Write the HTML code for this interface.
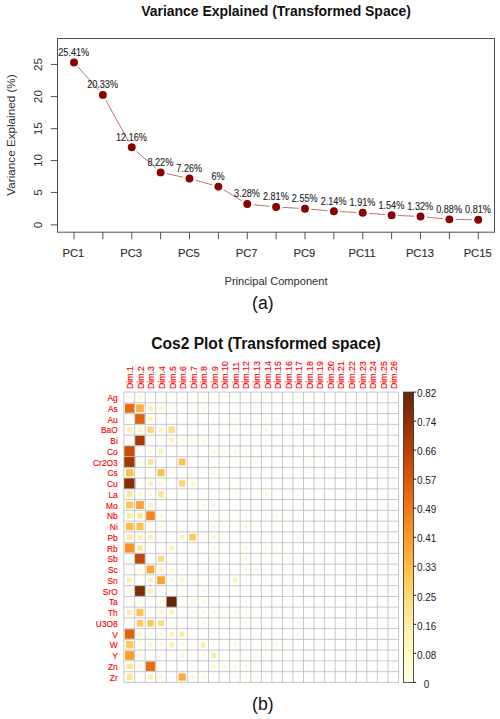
<!DOCTYPE html>
<html lang="en"><head><meta charset="utf-8"><title>Variance Explained and Cos2 Plot</title>
<style>html,body{margin:0;padding:0;background:#fff}svg{display:block}</style></head>
<body>
<svg width="500" height="719" viewBox="0 0 500 719" font-family="'Liberation Sans', sans-serif">
<rect width="500" height="719" fill="#fff"/>
<text x="276" y="16" font-size="13.95" font-weight="bold" text-anchor="middle" fill="#111">Variance Explained (Transformed Space)</text>
<rect x="57.5" y="38.5" width="437.0" height="193.7" fill="none" stroke="#505050" stroke-width="1"/>
<line x1="50.8" y1="224.90" x2="57.5" y2="224.90" stroke="#505050" stroke-width="1"/>
<text transform="translate(42.3,224.90) rotate(-90)" font-size="11.8" text-anchor="middle" fill="#2e2e2e">0</text>
<line x1="50.8" y1="192.45" x2="57.5" y2="192.45" stroke="#505050" stroke-width="1"/>
<text transform="translate(42.3,192.45) rotate(-90)" font-size="11.8" text-anchor="middle" fill="#2e2e2e">5</text>
<line x1="50.8" y1="160.55" x2="57.5" y2="160.55" stroke="#505050" stroke-width="1"/>
<text transform="translate(42.3,160.55) rotate(-90)" font-size="11.8" text-anchor="middle" fill="#2e2e2e">10</text>
<line x1="50.8" y1="128.70" x2="57.5" y2="128.70" stroke="#505050" stroke-width="1"/>
<text transform="translate(42.3,128.70) rotate(-90)" font-size="11.8" text-anchor="middle" fill="#2e2e2e">15</text>
<line x1="50.8" y1="96.60" x2="57.5" y2="96.60" stroke="#505050" stroke-width="1"/>
<text transform="translate(42.3,96.60) rotate(-90)" font-size="11.8" text-anchor="middle" fill="#2e2e2e">20</text>
<line x1="50.8" y1="64.45" x2="57.5" y2="64.45" stroke="#505050" stroke-width="1"/>
<text transform="translate(42.3,64.45) rotate(-90)" font-size="11.8" text-anchor="middle" fill="#2e2e2e">25</text>
<line x1="74.00" y1="232.2" x2="74.00" y2="239.2" stroke="#505050" stroke-width="1"/>
<text x="73.40" y="256.6" font-size="11.2" text-anchor="middle" fill="#2e2e2e" stroke="#2e2e2e" stroke-width="0.15">PC1</text>
<line x1="102.88" y1="232.2" x2="102.88" y2="239.2" stroke="#505050" stroke-width="1"/>
<line x1="131.75" y1="232.2" x2="131.75" y2="239.2" stroke="#505050" stroke-width="1"/>
<text x="131.15" y="256.6" font-size="11.2" text-anchor="middle" fill="#2e2e2e" stroke="#2e2e2e" stroke-width="0.15">PC3</text>
<line x1="160.62" y1="232.2" x2="160.62" y2="239.2" stroke="#505050" stroke-width="1"/>
<line x1="189.50" y1="232.2" x2="189.50" y2="239.2" stroke="#505050" stroke-width="1"/>
<text x="188.90" y="256.6" font-size="11.2" text-anchor="middle" fill="#2e2e2e" stroke="#2e2e2e" stroke-width="0.15">PC5</text>
<line x1="218.38" y1="232.2" x2="218.38" y2="239.2" stroke="#505050" stroke-width="1"/>
<line x1="247.25" y1="232.2" x2="247.25" y2="239.2" stroke="#505050" stroke-width="1"/>
<text x="246.65" y="256.6" font-size="11.2" text-anchor="middle" fill="#2e2e2e" stroke="#2e2e2e" stroke-width="0.15">PC7</text>
<line x1="276.12" y1="232.2" x2="276.12" y2="239.2" stroke="#505050" stroke-width="1"/>
<line x1="305.00" y1="232.2" x2="305.00" y2="239.2" stroke="#505050" stroke-width="1"/>
<text x="304.40" y="256.6" font-size="11.2" text-anchor="middle" fill="#2e2e2e" stroke="#2e2e2e" stroke-width="0.15">PC9</text>
<line x1="333.88" y1="232.2" x2="333.88" y2="239.2" stroke="#505050" stroke-width="1"/>
<line x1="362.75" y1="232.2" x2="362.75" y2="239.2" stroke="#505050" stroke-width="1"/>
<text x="362.15" y="256.6" font-size="11.2" text-anchor="middle" fill="#2e2e2e" stroke="#2e2e2e" stroke-width="0.15">PC11</text>
<line x1="391.62" y1="232.2" x2="391.62" y2="239.2" stroke="#505050" stroke-width="1"/>
<line x1="420.50" y1="232.2" x2="420.50" y2="239.2" stroke="#505050" stroke-width="1"/>
<text x="419.90" y="256.6" font-size="11.2" text-anchor="middle" fill="#2e2e2e" stroke="#2e2e2e" stroke-width="0.15">PC13</text>
<line x1="449.38" y1="232.2" x2="449.38" y2="239.2" stroke="#505050" stroke-width="1"/>
<line x1="478.25" y1="232.2" x2="478.25" y2="239.2" stroke="#505050" stroke-width="1"/>
<text x="477.65" y="256.6" font-size="11.2" text-anchor="middle" fill="#2e2e2e" stroke="#2e2e2e" stroke-width="0.15">PC15</text>
<text x="276" y="284.5" font-size="11.1" text-anchor="middle" fill="#2e2e2e">Principal Component</text>
<text transform="translate(15,135) rotate(-90)" font-size="11.7" text-anchor="middle" fill="#2e2e2e">Variance Explained (%)</text>
<line x1="78.25" y1="67.16" x2="98.63" y2="90.10" stroke="#8b0000" stroke-opacity="0.62" stroke-width="0.9"/>
<line x1="105.97" y1="100.49" x2="128.66" y2="141.57" stroke="#8b0000" stroke-opacity="0.62" stroke-width="0.9"/>
<line x1="136.57" y1="151.39" x2="155.80" y2="168.18" stroke="#8b0000" stroke-opacity="0.62" stroke-width="0.9"/>
<line x1="166.88" y1="173.72" x2="183.24" y2="177.20" stroke="#8b0000" stroke-opacity="0.62" stroke-width="0.9"/>
<line x1="195.66" y1="180.26" x2="212.21" y2="184.88" stroke="#8b0000" stroke-opacity="0.62" stroke-width="0.9"/>
<line x1="223.86" y1="189.90" x2="241.77" y2="200.70" stroke="#8b0000" stroke-opacity="0.62" stroke-width="0.9"/>
<line x1="253.62" y1="204.67" x2="269.76" y2="206.35" stroke="#8b0000" stroke-opacity="0.62" stroke-width="0.9"/>
<line x1="282.51" y1="207.38" x2="298.61" y2="208.31" stroke="#8b0000" stroke-opacity="0.62" stroke-width="0.9"/>
<line x1="311.37" y1="209.26" x2="327.50" y2="210.72" stroke="#8b0000" stroke-opacity="0.62" stroke-width="0.9"/>
<line x1="340.27" y1="211.63" x2="356.36" y2="212.45" stroke="#8b0000" stroke-opacity="0.62" stroke-width="0.9"/>
<line x1="369.13" y1="213.30" x2="385.25" y2="214.62" stroke="#8b0000" stroke-opacity="0.62" stroke-width="0.9"/>
<line x1="398.02" y1="215.46" x2="414.11" y2="216.24" stroke="#8b0000" stroke-opacity="0.62" stroke-width="0.9"/>
<line x1="426.87" y1="217.17" x2="443.01" y2="218.75" stroke="#8b0000" stroke-opacity="0.62" stroke-width="0.9"/>
<line x1="455.77" y1="219.47" x2="471.85" y2="219.72" stroke="#8b0000" stroke-opacity="0.62" stroke-width="0.9"/>
<circle cx="74.00" cy="62.38" r="3.95" fill="#8b0000"/>
<circle cx="102.88" cy="94.89" r="3.95" fill="#8b0000"/>
<circle cx="131.75" cy="147.18" r="3.95" fill="#8b0000"/>
<circle cx="160.62" cy="172.39" r="3.95" fill="#8b0000"/>
<circle cx="189.50" cy="178.54" r="3.95" fill="#8b0000"/>
<circle cx="218.38" cy="186.60" r="3.95" fill="#8b0000"/>
<circle cx="247.25" cy="204.01" r="3.95" fill="#8b0000"/>
<circle cx="276.12" cy="207.02" r="3.95" fill="#8b0000"/>
<circle cx="305.00" cy="208.68" r="3.95" fill="#8b0000"/>
<circle cx="333.88" cy="211.30" r="3.95" fill="#8b0000"/>
<circle cx="362.75" cy="212.78" r="3.95" fill="#8b0000"/>
<circle cx="391.62" cy="215.14" r="3.95" fill="#8b0000"/>
<circle cx="420.50" cy="216.55" r="3.95" fill="#8b0000"/>
<circle cx="449.38" cy="219.37" r="3.95" fill="#8b0000"/>
<circle cx="478.25" cy="219.82" r="3.95" fill="#8b0000"/>
<text transform="translate(73.70,55.83) scale(0.885,1)" font-size="10.3" text-anchor="middle" fill="#262626" stroke="#262626" stroke-width="0.12">25.41%</text>
<text transform="translate(102.58,88.34) scale(0.885,1)" font-size="10.3" text-anchor="middle" fill="#262626" stroke="#262626" stroke-width="0.12">20.33%</text>
<text transform="translate(131.45,140.63) scale(0.885,1)" font-size="10.3" text-anchor="middle" fill="#262626" stroke="#262626" stroke-width="0.12">12.16%</text>
<text transform="translate(160.32,165.84) scale(0.885,1)" font-size="10.3" text-anchor="middle" fill="#262626" stroke="#262626" stroke-width="0.12">8.22%</text>
<text transform="translate(189.20,171.99) scale(0.885,1)" font-size="10.3" text-anchor="middle" fill="#262626" stroke="#262626" stroke-width="0.12">7.26%</text>
<text transform="translate(218.07,180.05) scale(0.885,1)" font-size="10.3" text-anchor="middle" fill="#262626" stroke="#262626" stroke-width="0.12">6%</text>
<text transform="translate(246.95,197.46) scale(0.885,1)" font-size="10.3" text-anchor="middle" fill="#262626" stroke="#262626" stroke-width="0.12">3.28%</text>
<text transform="translate(275.82,200.47) scale(0.885,1)" font-size="10.3" text-anchor="middle" fill="#262626" stroke="#262626" stroke-width="0.12">2.81%</text>
<text transform="translate(304.70,202.13) scale(0.885,1)" font-size="10.3" text-anchor="middle" fill="#262626" stroke="#262626" stroke-width="0.12">2.55%</text>
<text transform="translate(333.57,204.75) scale(0.885,1)" font-size="10.3" text-anchor="middle" fill="#262626" stroke="#262626" stroke-width="0.12">2.14%</text>
<text transform="translate(362.45,206.23) scale(0.885,1)" font-size="10.3" text-anchor="middle" fill="#262626" stroke="#262626" stroke-width="0.12">1.91%</text>
<text transform="translate(391.32,208.59) scale(0.885,1)" font-size="10.3" text-anchor="middle" fill="#262626" stroke="#262626" stroke-width="0.12">1.54%</text>
<text transform="translate(420.20,210.00) scale(0.885,1)" font-size="10.3" text-anchor="middle" fill="#262626" stroke="#262626" stroke-width="0.12">1.32%</text>
<text transform="translate(449.07,212.82) scale(0.885,1)" font-size="10.3" text-anchor="middle" fill="#262626" stroke="#262626" stroke-width="0.12">0.88%</text>
<text transform="translate(477.95,213.27) scale(0.885,1)" font-size="10.3" text-anchor="middle" fill="#262626" stroke="#262626" stroke-width="0.12">0.81%</text>
<text x="262.8" y="309" font-size="17.6" text-anchor="middle" fill="#111">(a)</text>
<text x="266" y="349" font-size="15.6" font-weight="bold" text-anchor="middle" fill="#111">Cos2 Plot (Transformed space)</text>
<rect x="128.25" y="396.35" width="2.25" height="2.25" fill="#fffcd3"/>
<rect x="138.06" y="395.57" width="3.75" height="3.82" fill="#fff9c6"/>
<rect x="149.81" y="396.80" width="1.35" height="1.35" fill="#fffdd9"/>
<rect x="160.21" y="396.65" width="1.65" height="1.65" fill="#fffcd7"/>
<rect x="170.77" y="396.65" width="1.65" height="1.65" fill="#fffcd7"/>
<rect x="181.17" y="396.50" width="1.95" height="1.95" fill="#fffcd5"/>
<rect x="191.72" y="396.50" width="1.95" height="1.95" fill="#fffcd5"/>
<rect x="201.88" y="396.10" width="2.75" height="2.75" fill="#fffbd0"/>
<rect x="213.03" y="396.70" width="1.55" height="1.55" fill="#fffcd7"/>
<rect x="223.06" y="395.58" width="2.60" height="3.80" fill="#fffaca"/>
<rect x="234.14" y="396.70" width="1.55" height="1.55" fill="#fffcd7"/>
<rect x="244.89" y="396.90" width="1.15" height="1.15" fill="#fffdda"/>
<rect x="255.05" y="396.50" width="1.95" height="1.95" fill="#fffcd5"/>
<rect x="265.60" y="396.50" width="1.95" height="1.95" fill="#fffcd5"/>
<rect x="276.36" y="396.70" width="1.55" height="1.55" fill="#fffcd7"/>
<rect x="287.16" y="396.95" width="1.05" height="1.05" fill="#fffdda"/>
<rect x="297.06" y="396.30" width="2.35" height="2.35" fill="#fffbd3"/>
<rect x="307.72" y="396.40" width="2.15" height="2.15" fill="#fffcd4"/>
<rect x="318.27" y="396.40" width="2.15" height="2.15" fill="#fffcd4"/>
<rect x="329.02" y="396.60" width="1.75" height="1.75" fill="#fffcd6"/>
<rect x="339.88" y="396.90" width="1.15" height="1.15" fill="#fffdda"/>
<rect x="350.43" y="396.90" width="1.15" height="1.15" fill="#fffdda"/>
<rect x="360.79" y="396.70" width="1.55" height="1.55" fill="#fffcd7"/>
<rect x="371.54" y="396.90" width="1.15" height="1.15" fill="#fffdda"/>
<rect x="381.99" y="396.80" width="1.35" height="1.35" fill="#fffdd9"/>
<rect x="392.45" y="396.70" width="1.55" height="1.55" fill="#fffcd7"/>
<rect x="124.95" y="403.72" width="9.45" height="9.01" fill="#ea6d13"/>
<rect x="136.06" y="404.28" width="7.75" height="7.90" fill="#feae3c"/>
<rect x="148.06" y="405.76" width="4.85" height="4.94" fill="#fff0ad"/>
<rect x="159.06" y="406.22" width="3.95" height="4.02" fill="#fff8c2"/>
<rect x="170.47" y="407.10" width="2.25" height="2.25" fill="#fffcd3"/>
<rect x="181.17" y="407.25" width="1.95" height="1.95" fill="#fffcd5"/>
<rect x="192.02" y="407.55" width="1.35" height="1.35" fill="#fffdd9"/>
<rect x="201.95" y="406.33" width="2.60" height="3.80" fill="#fffaca"/>
<rect x="213.23" y="407.65" width="1.15" height="1.15" fill="#fffdda"/>
<rect x="223.69" y="407.55" width="1.35" height="1.35" fill="#fffdd9"/>
<rect x="233.54" y="406.85" width="2.75" height="2.75" fill="#fffbd0"/>
<rect x="244.94" y="407.70" width="1.05" height="1.05" fill="#fffdda"/>
<rect x="254.35" y="406.52" width="3.35" height="3.41" fill="#fffacd"/>
<rect x="265.40" y="407.05" width="2.35" height="2.35" fill="#fffbd3"/>
<rect x="276.36" y="407.45" width="1.55" height="1.55" fill="#fffcd7"/>
<rect x="286.91" y="407.45" width="1.55" height="1.55" fill="#fffcd7"/>
<rect x="297.66" y="407.65" width="1.15" height="1.15" fill="#fffdda"/>
<rect x="308.02" y="407.45" width="1.55" height="1.55" fill="#fffcd7"/>
<rect x="318.67" y="407.55" width="1.35" height="1.35" fill="#fffdd9"/>
<rect x="329.32" y="407.65" width="1.15" height="1.15" fill="#fffdda"/>
<rect x="339.88" y="407.65" width="1.15" height="1.15" fill="#fffdda"/>
<rect x="350.23" y="407.45" width="1.55" height="1.55" fill="#fffcd7"/>
<rect x="360.79" y="407.45" width="1.55" height="1.55" fill="#fffcd7"/>
<rect x="371.54" y="407.65" width="1.15" height="1.15" fill="#fffdda"/>
<rect x="381.99" y="407.55" width="1.35" height="1.35" fill="#fffdd9"/>
<rect x="392.65" y="407.65" width="1.15" height="1.15" fill="#fffdda"/>
<rect x="128.80" y="418.40" width="1.15" height="1.15" fill="#fffdda"/>
<rect x="135.11" y="414.07" width="9.65" height="9.83" fill="#e0630d"/>
<rect x="148.21" y="416.66" width="4.55" height="4.64" fill="#fff3b4"/>
<rect x="160.46" y="418.40" width="1.15" height="1.15" fill="#fffdda"/>
<rect x="170.92" y="418.30" width="1.35" height="1.35" fill="#fffdd9"/>
<rect x="181.57" y="418.40" width="1.15" height="1.15" fill="#fffdda"/>
<rect x="192.12" y="418.40" width="1.15" height="1.15" fill="#fffdda"/>
<rect x="202.58" y="418.30" width="1.35" height="1.35" fill="#fffdd9"/>
<rect x="213.03" y="418.20" width="1.55" height="1.55" fill="#fffcd7"/>
<rect x="223.69" y="418.30" width="1.35" height="1.35" fill="#fffdd9"/>
<rect x="233.74" y="417.80" width="2.35" height="2.35" fill="#fffbd3"/>
<rect x="244.79" y="418.30" width="1.35" height="1.35" fill="#fffdd9"/>
<rect x="254.65" y="417.60" width="2.75" height="2.75" fill="#fffbd0"/>
<rect x="266.05" y="418.45" width="1.05" height="1.05" fill="#fffdda"/>
<rect x="276.16" y="418.00" width="1.95" height="1.95" fill="#fffcd5"/>
<rect x="287.01" y="418.30" width="1.35" height="1.35" fill="#fffdd9"/>
<rect x="297.46" y="418.20" width="1.55" height="1.55" fill="#fffcd7"/>
<rect x="308.02" y="418.20" width="1.55" height="1.55" fill="#fffcd7"/>
<rect x="318.17" y="417.80" width="2.35" height="2.35" fill="#fffbd3"/>
<rect x="329.12" y="418.20" width="1.55" height="1.55" fill="#fffcd7"/>
<rect x="339.88" y="418.40" width="1.15" height="1.15" fill="#fffdda"/>
<rect x="350.33" y="418.30" width="1.35" height="1.35" fill="#fffdd9"/>
<rect x="360.69" y="418.10" width="1.75" height="1.75" fill="#fffcd6"/>
<rect x="371.24" y="418.10" width="1.75" height="1.75" fill="#fffcd6"/>
<rect x="381.89" y="418.20" width="1.55" height="1.55" fill="#fffcd7"/>
<rect x="392.65" y="418.40" width="1.15" height="1.15" fill="#fffdda"/>
<rect x="126.95" y="427.26" width="5.45" height="4.94" fill="#fff0ad"/>
<rect x="138.03" y="427.28" width="3.80" height="4.90" fill="#fff7be"/>
<rect x="147.26" y="426.45" width="6.45" height="6.57" fill="#fed777"/>
<rect x="158.91" y="427.57" width="4.25" height="4.33" fill="#fff7bc"/>
<rect x="168.37" y="426.45" width="6.45" height="6.57" fill="#fede87"/>
<rect x="181.57" y="429.16" width="1.15" height="1.15" fill="#fffdda"/>
<rect x="192.12" y="429.16" width="1.15" height="1.15" fill="#fffdda"/>
<rect x="201.88" y="428.36" width="2.75" height="2.75" fill="#fffbd0"/>
<rect x="213.03" y="428.96" width="1.55" height="1.55" fill="#fffcd7"/>
<rect x="223.69" y="429.06" width="1.35" height="1.35" fill="#fffdd9"/>
<rect x="233.54" y="428.36" width="2.75" height="2.75" fill="#fffbd0"/>
<rect x="244.49" y="428.76" width="1.95" height="1.95" fill="#fffcd5"/>
<rect x="255.05" y="428.76" width="1.95" height="1.95" fill="#fffcd5"/>
<rect x="265.00" y="428.16" width="3.15" height="3.15" fill="#ffface"/>
<rect x="276.16" y="428.76" width="1.95" height="1.95" fill="#fffcd5"/>
<rect x="286.71" y="428.76" width="1.95" height="1.95" fill="#fffcd5"/>
<rect x="297.16" y="428.66" width="2.15" height="2.15" fill="#fffcd4"/>
<rect x="308.02" y="428.96" width="1.55" height="1.55" fill="#fffcd7"/>
<rect x="318.57" y="428.96" width="1.55" height="1.55" fill="#fffcd7"/>
<rect x="329.32" y="429.16" width="1.15" height="1.15" fill="#fffdda"/>
<rect x="339.78" y="429.06" width="1.35" height="1.35" fill="#fffdd9"/>
<rect x="350.43" y="429.16" width="1.15" height="1.15" fill="#fffdda"/>
<rect x="360.79" y="428.96" width="1.55" height="1.55" fill="#fffcd7"/>
<rect x="371.44" y="429.06" width="1.35" height="1.35" fill="#fffdd9"/>
<rect x="381.99" y="429.06" width="1.35" height="1.35" fill="#fffdd9"/>
<rect x="392.45" y="428.96" width="1.55" height="1.55" fill="#fffcd7"/>
<rect x="128.40" y="439.51" width="1.95" height="1.95" fill="#fffcd5"/>
<rect x="135.11" y="435.57" width="9.65" height="9.83" fill="#a73a03"/>
<rect x="149.91" y="439.91" width="1.15" height="1.15" fill="#fffdda"/>
<rect x="160.21" y="439.66" width="1.65" height="1.65" fill="#fffcd7"/>
<rect x="169.32" y="438.17" width="4.55" height="4.64" fill="#fff3b4"/>
<rect x="180.37" y="438.71" width="3.55" height="3.55" fill="#fffacc"/>
<rect x="191.07" y="438.86" width="3.25" height="3.25" fill="#fffacd"/>
<rect x="201.68" y="438.91" width="3.15" height="3.15" fill="#ffface"/>
<rect x="213.03" y="439.71" width="1.55" height="1.55" fill="#fffcd7"/>
<rect x="222.79" y="438.91" width="3.15" height="3.15" fill="#ffface"/>
<rect x="234.14" y="439.71" width="1.55" height="1.55" fill="#fffcd7"/>
<rect x="244.44" y="439.46" width="2.05" height="2.05" fill="#fffcd4"/>
<rect x="255.25" y="439.71" width="1.55" height="1.55" fill="#fffcd7"/>
<rect x="265.00" y="438.91" width="3.15" height="3.15" fill="#ffface"/>
<rect x="276.46" y="439.81" width="1.35" height="1.35" fill="#fffdd9"/>
<rect x="286.71" y="439.51" width="1.95" height="1.95" fill="#fffcd5"/>
<rect x="297.56" y="439.81" width="1.35" height="1.35" fill="#fffdd9"/>
<rect x="308.02" y="439.71" width="1.55" height="1.55" fill="#fffcd7"/>
<rect x="318.37" y="439.51" width="1.95" height="1.95" fill="#fffcd5"/>
<rect x="328.92" y="439.51" width="1.95" height="1.95" fill="#fffcd5"/>
<rect x="339.78" y="439.81" width="1.35" height="1.35" fill="#fffdd9"/>
<rect x="350.23" y="439.71" width="1.55" height="1.55" fill="#fffcd7"/>
<rect x="360.69" y="439.61" width="1.75" height="1.75" fill="#fffcd6"/>
<rect x="371.44" y="439.81" width="1.35" height="1.35" fill="#fffdd9"/>
<rect x="382.09" y="439.91" width="1.15" height="1.15" fill="#fffdda"/>
<rect x="392.45" y="439.71" width="1.55" height="1.55" fill="#fffcd7"/>
<rect x="124.25" y="446.02" width="10.85" height="10.44" fill="#ca4b02"/>
<rect x="138.96" y="450.26" width="1.95" height="1.95" fill="#fffcd5"/>
<rect x="149.13" y="449.34" width="2.70" height="3.80" fill="#fffacb"/>
<rect x="158.89" y="448.54" width="4.30" height="5.40" fill="#fff1af"/>
<rect x="170.62" y="450.26" width="1.95" height="1.95" fill="#fffcd5"/>
<rect x="181.57" y="450.66" width="1.15" height="1.15" fill="#fffdda"/>
<rect x="191.32" y="449.86" width="2.75" height="2.75" fill="#fffbd0"/>
<rect x="202.68" y="450.66" width="1.15" height="1.15" fill="#fffdda"/>
<rect x="212.03" y="449.46" width="3.55" height="3.55" fill="#fffacc"/>
<rect x="222.79" y="449.66" width="3.15" height="3.15" fill="#ffface"/>
<rect x="233.34" y="449.66" width="3.15" height="3.15" fill="#ffface"/>
<rect x="244.54" y="450.31" width="1.85" height="1.85" fill="#fffcd6"/>
<rect x="255.05" y="450.26" width="1.95" height="1.95" fill="#fffcd5"/>
<rect x="265.60" y="450.26" width="1.95" height="1.95" fill="#fffcd5"/>
<rect x="276.56" y="450.66" width="1.15" height="1.15" fill="#fffdda"/>
<rect x="286.71" y="450.26" width="1.95" height="1.95" fill="#fffcd5"/>
<rect x="297.06" y="450.06" width="2.35" height="2.35" fill="#fffbd3"/>
<rect x="307.82" y="450.26" width="1.95" height="1.95" fill="#fffcd5"/>
<rect x="318.67" y="450.56" width="1.35" height="1.35" fill="#fffdd9"/>
<rect x="329.22" y="450.56" width="1.35" height="1.35" fill="#fffdd9"/>
<rect x="339.88" y="450.66" width="1.15" height="1.15" fill="#fffdda"/>
<rect x="350.23" y="450.46" width="1.55" height="1.55" fill="#fffcd7"/>
<rect x="360.69" y="450.36" width="1.75" height="1.75" fill="#fffcd6"/>
<rect x="371.54" y="450.66" width="1.15" height="1.15" fill="#fffdda"/>
<rect x="381.89" y="450.46" width="1.55" height="1.55" fill="#fffcd7"/>
<rect x="392.65" y="450.66" width="1.15" height="1.15" fill="#fffdda"/>
<rect x="124.10" y="456.62" width="11.15" height="10.74" fill="#a23804"/>
<rect x="138.31" y="460.36" width="3.25" height="3.25" fill="#fffacd"/>
<rect x="147.71" y="459.16" width="5.55" height="5.65" fill="#fee698"/>
<rect x="160.46" y="461.41" width="1.15" height="1.15" fill="#fffdda"/>
<rect x="171.02" y="461.41" width="1.15" height="1.15" fill="#fffdda"/>
<rect x="178.77" y="458.55" width="6.75" height="6.88" fill="#fec34e"/>
<rect x="191.57" y="460.86" width="2.25" height="2.25" fill="#fffcd3"/>
<rect x="202.58" y="461.31" width="1.35" height="1.35" fill="#fffdd9"/>
<rect x="213.13" y="461.31" width="1.35" height="1.35" fill="#fffdd9"/>
<rect x="222.99" y="460.61" width="2.75" height="2.75" fill="#fffbd0"/>
<rect x="233.64" y="460.71" width="2.55" height="2.55" fill="#fffbd1"/>
<rect x="244.09" y="460.61" width="2.75" height="2.75" fill="#fffbd0"/>
<rect x="254.65" y="460.61" width="2.75" height="2.75" fill="#fffbd0"/>
<rect x="265.90" y="461.31" width="1.35" height="1.35" fill="#fffdd9"/>
<rect x="276.36" y="461.21" width="1.55" height="1.55" fill="#fffcd7"/>
<rect x="286.51" y="460.81" width="2.35" height="2.35" fill="#fffbd3"/>
<rect x="297.46" y="461.21" width="1.55" height="1.55" fill="#fffcd7"/>
<rect x="307.62" y="460.81" width="2.35" height="2.35" fill="#fffbd3"/>
<rect x="318.37" y="461.01" width="1.95" height="1.95" fill="#fffcd5"/>
<rect x="329.02" y="461.11" width="1.75" height="1.75" fill="#fffcd6"/>
<rect x="339.68" y="461.21" width="1.55" height="1.55" fill="#fffcd7"/>
<rect x="350.23" y="461.21" width="1.55" height="1.55" fill="#fffcd7"/>
<rect x="360.89" y="461.31" width="1.35" height="1.35" fill="#fffdd9"/>
<rect x="371.34" y="461.21" width="1.55" height="1.55" fill="#fffcd7"/>
<rect x="381.89" y="461.21" width="1.55" height="1.55" fill="#fffcd7"/>
<rect x="392.45" y="461.21" width="1.55" height="1.55" fill="#fffcd7"/>
<rect x="125.90" y="469.20" width="7.55" height="7.08" fill="#fec14c"/>
<rect x="139.26" y="472.06" width="1.35" height="1.35" fill="#fffdd9"/>
<rect x="149.36" y="471.61" width="2.25" height="2.25" fill="#fffcd3"/>
<rect x="157.56" y="469.20" width="6.95" height="7.08" fill="#fec14c"/>
<rect x="170.24" y="470.84" width="2.70" height="3.80" fill="#fffaca"/>
<rect x="181.32" y="471.91" width="1.65" height="1.65" fill="#fffcd7"/>
<rect x="191.57" y="471.61" width="2.25" height="2.25" fill="#fffcd3"/>
<rect x="202.58" y="472.06" width="1.35" height="1.35" fill="#fffdd9"/>
<rect x="212.03" y="470.96" width="3.55" height="3.55" fill="#fffacc"/>
<rect x="223.69" y="472.06" width="1.35" height="1.35" fill="#fffdd9"/>
<rect x="233.94" y="471.76" width="1.95" height="1.95" fill="#fffcd5"/>
<rect x="244.69" y="471.96" width="1.55" height="1.55" fill="#fffcd7"/>
<rect x="255.05" y="471.76" width="1.95" height="1.95" fill="#fffcd5"/>
<rect x="265.60" y="471.76" width="1.95" height="1.95" fill="#fffcd5"/>
<rect x="276.46" y="472.06" width="1.35" height="1.35" fill="#fffdd9"/>
<rect x="286.91" y="471.96" width="1.55" height="1.55" fill="#fffcd7"/>
<rect x="297.56" y="472.06" width="1.35" height="1.35" fill="#fffdd9"/>
<rect x="308.12" y="472.06" width="1.35" height="1.35" fill="#fffdd9"/>
<rect x="318.67" y="472.06" width="1.35" height="1.35" fill="#fffdd9"/>
<rect x="329.22" y="472.06" width="1.35" height="1.35" fill="#fffdd9"/>
<rect x="339.58" y="471.86" width="1.75" height="1.75" fill="#fffcd6"/>
<rect x="350.33" y="472.06" width="1.35" height="1.35" fill="#fffdd9"/>
<rect x="360.99" y="472.16" width="1.15" height="1.15" fill="#fffdda"/>
<rect x="371.34" y="471.96" width="1.55" height="1.55" fill="#fffcd7"/>
<rect x="381.99" y="472.06" width="1.35" height="1.35" fill="#fffdd9"/>
<rect x="392.45" y="471.96" width="1.55" height="1.55" fill="#fffcd7"/>
<rect x="124.05" y="478.07" width="11.25" height="10.84" fill="#842e05"/>
<rect x="139.36" y="482.92" width="1.15" height="1.15" fill="#fffdda"/>
<rect x="148.21" y="481.17" width="4.55" height="4.64" fill="#fff3b4"/>
<rect x="159.16" y="481.58" width="3.75" height="3.82" fill="#fff9c6"/>
<rect x="170.77" y="482.67" width="1.65" height="1.65" fill="#fffcd7"/>
<rect x="179.07" y="480.36" width="6.15" height="6.27" fill="#fed471"/>
<rect x="190.70" y="481.04" width="4.00" height="4.90" fill="#fff6b9"/>
<rect x="202.28" y="482.52" width="1.95" height="1.95" fill="#fffcd5"/>
<rect x="212.63" y="482.32" width="2.35" height="2.35" fill="#fffbd3"/>
<rect x="223.59" y="482.72" width="1.55" height="1.55" fill="#fffcd7"/>
<rect x="234.24" y="482.82" width="1.35" height="1.35" fill="#fffdd9"/>
<rect x="244.69" y="482.72" width="1.55" height="1.55" fill="#fffcd7"/>
<rect x="255.05" y="482.52" width="1.95" height="1.95" fill="#fffcd5"/>
<rect x="265.80" y="482.72" width="1.55" height="1.55" fill="#fffcd7"/>
<rect x="276.36" y="482.72" width="1.55" height="1.55" fill="#fffcd7"/>
<rect x="286.71" y="482.52" width="1.95" height="1.95" fill="#fffcd5"/>
<rect x="297.46" y="482.72" width="1.55" height="1.55" fill="#fffcd7"/>
<rect x="307.82" y="482.52" width="1.95" height="1.95" fill="#fffcd5"/>
<rect x="318.47" y="482.62" width="1.75" height="1.75" fill="#fffcd6"/>
<rect x="329.12" y="482.72" width="1.55" height="1.55" fill="#fffcd7"/>
<rect x="339.78" y="482.82" width="1.35" height="1.35" fill="#fffdd9"/>
<rect x="350.23" y="482.72" width="1.55" height="1.55" fill="#fffcd7"/>
<rect x="360.99" y="482.92" width="1.15" height="1.15" fill="#fffdda"/>
<rect x="371.54" y="482.92" width="1.15" height="1.15" fill="#fffdda"/>
<rect x="381.89" y="482.72" width="1.55" height="1.55" fill="#fffcd7"/>
<rect x="392.45" y="482.72" width="1.55" height="1.55" fill="#fffcd7"/>
<rect x="126.93" y="491.14" width="5.50" height="6.20" fill="#fee698"/>
<rect x="138.03" y="491.94" width="3.80" height="4.60" fill="#fff7be"/>
<rect x="148.86" y="492.62" width="3.25" height="3.25" fill="#fffacd"/>
<rect x="158.44" y="490.99" width="5.20" height="6.50" fill="#fee392"/>
<rect x="170.77" y="493.42" width="1.65" height="1.65" fill="#fffcd7"/>
<rect x="181.32" y="493.42" width="1.65" height="1.65" fill="#fffcd7"/>
<rect x="191.88" y="493.42" width="1.65" height="1.65" fill="#fffcd7"/>
<rect x="202.48" y="493.47" width="1.55" height="1.55" fill="#fffcd7"/>
<rect x="213.03" y="493.47" width="1.55" height="1.55" fill="#fffcd7"/>
<rect x="223.59" y="493.47" width="1.55" height="1.55" fill="#fffcd7"/>
<rect x="233.44" y="492.77" width="2.95" height="2.95" fill="#fffbcf"/>
<rect x="244.69" y="493.47" width="1.55" height="1.55" fill="#fffcd7"/>
<rect x="255.45" y="493.67" width="1.15" height="1.15" fill="#fffdda"/>
<rect x="264.80" y="492.47" width="3.55" height="3.55" fill="#fffacc"/>
<rect x="276.16" y="493.27" width="1.95" height="1.95" fill="#fffcd5"/>
<rect x="286.91" y="493.47" width="1.55" height="1.55" fill="#fffcd7"/>
<rect x="297.06" y="493.07" width="2.35" height="2.35" fill="#fffbd3"/>
<rect x="307.82" y="493.27" width="1.95" height="1.95" fill="#fffcd5"/>
<rect x="318.67" y="493.57" width="1.35" height="1.35" fill="#fffdd9"/>
<rect x="329.12" y="493.47" width="1.55" height="1.55" fill="#fffcd7"/>
<rect x="339.68" y="493.47" width="1.55" height="1.55" fill="#fffcd7"/>
<rect x="350.43" y="493.67" width="1.15" height="1.15" fill="#fffdda"/>
<rect x="360.69" y="493.37" width="1.75" height="1.75" fill="#fffcd6"/>
<rect x="371.54" y="493.67" width="1.15" height="1.15" fill="#fffdda"/>
<rect x="381.89" y="493.47" width="1.55" height="1.55" fill="#fffcd7"/>
<rect x="392.45" y="493.47" width="1.55" height="1.55" fill="#fffcd7"/>
<rect x="126.00" y="501.56" width="7.35" height="6.88" fill="#fec857"/>
<rect x="136.06" y="501.05" width="7.75" height="7.90" fill="#fea130"/>
<rect x="148.21" y="502.68" width="4.55" height="4.64" fill="#fff3b4"/>
<rect x="160.36" y="504.32" width="1.35" height="1.35" fill="#fffdd9"/>
<rect x="171.02" y="504.42" width="1.15" height="1.15" fill="#fffdda"/>
<rect x="181.32" y="504.17" width="1.65" height="1.65" fill="#fffcd7"/>
<rect x="191.72" y="504.02" width="1.95" height="1.95" fill="#fffcd5"/>
<rect x="201.58" y="503.32" width="3.35" height="3.35" fill="#fffacd"/>
<rect x="212.13" y="503.29" width="3.35" height="3.41" fill="#fffacd"/>
<rect x="223.69" y="504.32" width="1.35" height="1.35" fill="#fffdd9"/>
<rect x="233.34" y="503.42" width="3.15" height="3.15" fill="#ffface"/>
<rect x="244.94" y="504.47" width="1.05" height="1.05" fill="#fffdda"/>
<rect x="255.45" y="504.42" width="1.15" height="1.15" fill="#fffdda"/>
<rect x="266.00" y="504.42" width="1.15" height="1.15" fill="#fffdda"/>
<rect x="276.46" y="504.32" width="1.35" height="1.35" fill="#fffdd9"/>
<rect x="287.01" y="504.32" width="1.35" height="1.35" fill="#fffdd9"/>
<rect x="297.56" y="504.32" width="1.35" height="1.35" fill="#fffdd9"/>
<rect x="308.12" y="504.32" width="1.35" height="1.35" fill="#fffdd9"/>
<rect x="318.47" y="504.12" width="1.75" height="1.75" fill="#fffcd6"/>
<rect x="329.22" y="504.32" width="1.35" height="1.35" fill="#fffdd9"/>
<rect x="339.68" y="504.22" width="1.55" height="1.55" fill="#fffcd7"/>
<rect x="350.23" y="504.22" width="1.55" height="1.55" fill="#fffcd7"/>
<rect x="360.79" y="504.22" width="1.55" height="1.55" fill="#fffcd7"/>
<rect x="371.34" y="504.22" width="1.55" height="1.55" fill="#fffcd7"/>
<rect x="382.09" y="504.42" width="1.15" height="1.15" fill="#fffdda"/>
<rect x="392.65" y="504.42" width="1.15" height="1.15" fill="#fffdda"/>
<rect x="126.80" y="513.12" width="5.75" height="5.25" fill="#feeca4"/>
<rect x="137.16" y="512.92" width="5.55" height="5.65" fill="#fee698"/>
<rect x="146.16" y="511.34" width="8.65" height="8.81" fill="#f5851f"/>
<rect x="159.26" y="513.97" width="3.55" height="3.55" fill="#fffacc"/>
<rect x="170.62" y="514.77" width="1.95" height="1.95" fill="#fffcd5"/>
<rect x="181.32" y="514.92" width="1.65" height="1.65" fill="#fffcd7"/>
<rect x="191.57" y="514.62" width="2.25" height="2.25" fill="#fffcd3"/>
<rect x="202.73" y="515.22" width="1.05" height="1.05" fill="#fffdda"/>
<rect x="213.03" y="514.97" width="1.55" height="1.55" fill="#fffcd7"/>
<rect x="223.19" y="514.57" width="2.35" height="2.35" fill="#fffbd3"/>
<rect x="234.14" y="514.97" width="1.55" height="1.55" fill="#fffcd7"/>
<rect x="244.49" y="514.77" width="1.95" height="1.95" fill="#fffcd5"/>
<rect x="255.50" y="515.22" width="1.05" height="1.05" fill="#fffdda"/>
<rect x="265.40" y="514.57" width="2.35" height="2.35" fill="#fffbd3"/>
<rect x="275.66" y="514.27" width="2.95" height="2.95" fill="#fffbcf"/>
<rect x="286.71" y="514.77" width="1.95" height="1.95" fill="#fffcd5"/>
<rect x="297.06" y="514.57" width="2.35" height="2.35" fill="#fffbd3"/>
<rect x="308.02" y="514.97" width="1.55" height="1.55" fill="#fffcd7"/>
<rect x="318.47" y="514.87" width="1.75" height="1.75" fill="#fffcd6"/>
<rect x="329.02" y="514.87" width="1.75" height="1.75" fill="#fffcd6"/>
<rect x="339.88" y="515.17" width="1.15" height="1.15" fill="#fffdda"/>
<rect x="350.43" y="515.17" width="1.15" height="1.15" fill="#fffdda"/>
<rect x="360.69" y="514.87" width="1.75" height="1.75" fill="#fffcd6"/>
<rect x="371.24" y="514.87" width="1.75" height="1.75" fill="#fffcd6"/>
<rect x="381.99" y="515.07" width="1.35" height="1.35" fill="#fffdd9"/>
<rect x="392.35" y="514.87" width="1.75" height="1.75" fill="#fffcd6"/>
<rect x="125.80" y="522.86" width="7.75" height="7.28" fill="#febb47"/>
<rect x="136.36" y="522.86" width="7.15" height="7.28" fill="#febf4a"/>
<rect x="149.36" y="525.37" width="2.25" height="2.25" fill="#fffcd3"/>
<rect x="159.26" y="524.72" width="3.55" height="3.55" fill="#fffacc"/>
<rect x="171.02" y="525.92" width="1.15" height="1.15" fill="#fffdda"/>
<rect x="181.57" y="525.92" width="1.15" height="1.15" fill="#fffdda"/>
<rect x="191.88" y="525.67" width="1.65" height="1.65" fill="#fffcd7"/>
<rect x="202.08" y="525.32" width="2.35" height="2.35" fill="#fffbd3"/>
<rect x="212.43" y="525.12" width="2.75" height="2.75" fill="#fffbd0"/>
<rect x="222.86" y="524.40" width="3.00" height="4.20" fill="#fffaca"/>
<rect x="234.34" y="525.92" width="1.15" height="1.15" fill="#fffdda"/>
<rect x="243.59" y="524.59" width="3.75" height="3.82" fill="#fff9c6"/>
<rect x="255.25" y="525.72" width="1.55" height="1.55" fill="#fffcd7"/>
<rect x="265.80" y="525.72" width="1.55" height="1.55" fill="#fffcd7"/>
<rect x="276.16" y="525.52" width="1.95" height="1.95" fill="#fffcd5"/>
<rect x="286.71" y="525.52" width="1.95" height="1.95" fill="#fffcd5"/>
<rect x="297.46" y="525.72" width="1.55" height="1.55" fill="#fffcd7"/>
<rect x="307.92" y="525.62" width="1.75" height="1.75" fill="#fffcd6"/>
<rect x="318.57" y="525.72" width="1.55" height="1.55" fill="#fffcd7"/>
<rect x="329.22" y="525.82" width="1.35" height="1.35" fill="#fffdd9"/>
<rect x="339.58" y="525.62" width="1.75" height="1.75" fill="#fffcd6"/>
<rect x="350.23" y="525.72" width="1.55" height="1.55" fill="#fffcd7"/>
<rect x="360.69" y="525.62" width="1.75" height="1.75" fill="#fffcd6"/>
<rect x="371.44" y="525.82" width="1.35" height="1.35" fill="#fffdd9"/>
<rect x="382.09" y="525.92" width="1.15" height="1.15" fill="#fffdda"/>
<rect x="392.45" y="525.72" width="1.55" height="1.55" fill="#fffcd7"/>
<rect x="126.80" y="534.63" width="5.75" height="5.25" fill="#feeca4"/>
<rect x="137.51" y="534.78" width="4.85" height="4.94" fill="#fff0ad"/>
<rect x="148.06" y="534.78" width="4.85" height="4.94" fill="#fff0ad"/>
<rect x="160.44" y="535.75" width="1.20" height="3.00" fill="#fffbd1"/>
<rect x="171.12" y="536.77" width="0.95" height="0.95" fill="#fffddb"/>
<rect x="179.87" y="534.93" width="4.55" height="4.64" fill="#fff3b4"/>
<rect x="189.32" y="533.81" width="6.75" height="6.88" fill="#fecb5d"/>
<rect x="202.68" y="536.67" width="1.15" height="1.15" fill="#fffdda"/>
<rect x="211.51" y="535.55" width="4.60" height="3.40" fill="#fff8c2"/>
<rect x="222.99" y="535.88" width="2.75" height="2.75" fill="#fffbd0"/>
<rect x="234.24" y="536.58" width="1.35" height="1.35" fill="#fffdd9"/>
<rect x="244.94" y="536.73" width="1.05" height="1.05" fill="#fffdda"/>
<rect x="255.50" y="536.73" width="1.05" height="1.05" fill="#fffdda"/>
<rect x="265.90" y="536.58" width="1.35" height="1.35" fill="#fffdd9"/>
<rect x="275.96" y="536.08" width="2.35" height="2.35" fill="#fffbd3"/>
<rect x="287.11" y="536.67" width="1.15" height="1.15" fill="#fffdda"/>
<rect x="297.26" y="536.27" width="1.95" height="1.95" fill="#fffcd5"/>
<rect x="307.82" y="536.27" width="1.95" height="1.95" fill="#fffcd5"/>
<rect x="318.57" y="536.48" width="1.55" height="1.55" fill="#fffcd7"/>
<rect x="329.32" y="536.67" width="1.15" height="1.15" fill="#fffdda"/>
<rect x="339.68" y="536.48" width="1.55" height="1.55" fill="#fffcd7"/>
<rect x="350.43" y="536.67" width="1.15" height="1.15" fill="#fffdda"/>
<rect x="360.89" y="536.58" width="1.35" height="1.35" fill="#fffdd9"/>
<rect x="371.44" y="536.58" width="1.35" height="1.35" fill="#fffdd9"/>
<rect x="381.99" y="536.58" width="1.35" height="1.35" fill="#fffdd9"/>
<rect x="392.35" y="536.38" width="1.75" height="1.75" fill="#fffcd6"/>
<rect x="124.85" y="543.39" width="9.65" height="9.21" fill="#fa9125"/>
<rect x="137.16" y="545.17" width="5.55" height="5.65" fill="#fee698"/>
<rect x="149.36" y="546.88" width="2.25" height="2.25" fill="#fffcd3"/>
<rect x="160.21" y="547.18" width="1.65" height="1.65" fill="#fffcd7"/>
<rect x="169.32" y="545.68" width="4.55" height="4.64" fill="#fff3b4"/>
<rect x="181.32" y="547.18" width="1.65" height="1.65" fill="#fffcd7"/>
<rect x="191.88" y="547.18" width="1.65" height="1.65" fill="#fffcd7"/>
<rect x="202.28" y="547.03" width="1.95" height="1.95" fill="#fffcd5"/>
<rect x="212.03" y="546.23" width="3.55" height="3.55" fill="#fffacc"/>
<rect x="223.39" y="547.03" width="1.95" height="1.95" fill="#fffcd5"/>
<rect x="234.14" y="547.23" width="1.55" height="1.55" fill="#fffcd7"/>
<rect x="243.69" y="546.23" width="3.55" height="3.55" fill="#fffacc"/>
<rect x="255.50" y="547.48" width="1.05" height="1.05" fill="#fffdda"/>
<rect x="265.10" y="546.53" width="2.95" height="2.95" fill="#fffbcf"/>
<rect x="276.16" y="547.03" width="1.95" height="1.95" fill="#fffcd5"/>
<rect x="286.71" y="547.03" width="1.95" height="1.95" fill="#fffcd5"/>
<rect x="297.56" y="547.33" width="1.35" height="1.35" fill="#fffdd9"/>
<rect x="308.02" y="547.23" width="1.55" height="1.55" fill="#fffcd7"/>
<rect x="318.57" y="547.23" width="1.55" height="1.55" fill="#fffcd7"/>
<rect x="329.12" y="547.23" width="1.55" height="1.55" fill="#fffcd7"/>
<rect x="339.88" y="547.43" width="1.15" height="1.15" fill="#fffdda"/>
<rect x="350.33" y="547.33" width="1.35" height="1.35" fill="#fffdd9"/>
<rect x="360.79" y="547.23" width="1.55" height="1.55" fill="#fffcd7"/>
<rect x="371.34" y="547.23" width="1.55" height="1.55" fill="#fffcd7"/>
<rect x="381.89" y="547.23" width="1.55" height="1.55" fill="#fffcd7"/>
<rect x="392.55" y="547.33" width="1.35" height="1.35" fill="#fffdd9"/>
<rect x="128.25" y="557.63" width="2.25" height="2.25" fill="#fffcd3"/>
<rect x="134.96" y="553.69" width="9.95" height="10.13" fill="#c04602"/>
<rect x="149.66" y="557.93" width="1.65" height="1.65" fill="#fffcd7"/>
<rect x="157.96" y="555.62" width="6.15" height="6.27" fill="#feda7e"/>
<rect x="170.77" y="557.93" width="1.65" height="1.65" fill="#fffcd7"/>
<rect x="181.32" y="557.93" width="1.65" height="1.65" fill="#fffcd7"/>
<rect x="191.88" y="557.93" width="1.65" height="1.65" fill="#fffcd7"/>
<rect x="202.08" y="557.58" width="2.35" height="2.35" fill="#fffbd3"/>
<rect x="213.03" y="557.98" width="1.55" height="1.55" fill="#fffcd7"/>
<rect x="223.59" y="557.98" width="1.55" height="1.55" fill="#fffcd7"/>
<rect x="234.14" y="557.98" width="1.55" height="1.55" fill="#fffcd7"/>
<rect x="243.69" y="556.98" width="3.55" height="3.55" fill="#fffacc"/>
<rect x="255.35" y="558.08" width="1.35" height="1.35" fill="#fffdd9"/>
<rect x="265.80" y="557.98" width="1.55" height="1.55" fill="#fffcd7"/>
<rect x="276.16" y="557.78" width="1.95" height="1.95" fill="#fffcd5"/>
<rect x="286.11" y="557.18" width="3.15" height="3.15" fill="#ffface"/>
<rect x="297.56" y="558.08" width="1.35" height="1.35" fill="#fffdd9"/>
<rect x="308.02" y="557.98" width="1.55" height="1.55" fill="#fffcd7"/>
<rect x="318.57" y="557.98" width="1.55" height="1.55" fill="#fffcd7"/>
<rect x="329.22" y="558.08" width="1.35" height="1.35" fill="#fffdd9"/>
<rect x="339.58" y="557.88" width="1.75" height="1.75" fill="#fffcd6"/>
<rect x="350.23" y="557.98" width="1.55" height="1.55" fill="#fffcd7"/>
<rect x="360.89" y="558.08" width="1.35" height="1.35" fill="#fffdd9"/>
<rect x="371.24" y="557.88" width="1.75" height="1.75" fill="#fffcd6"/>
<rect x="381.89" y="557.98" width="1.55" height="1.55" fill="#fffcd7"/>
<rect x="392.55" y="558.08" width="1.35" height="1.35" fill="#fffdd9"/>
<rect x="128.80" y="568.93" width="1.15" height="1.15" fill="#fffdda"/>
<rect x="138.06" y="567.60" width="3.75" height="3.82" fill="#fff9c6"/>
<rect x="146.61" y="565.56" width="7.75" height="7.90" fill="#fea634"/>
<rect x="158.76" y="567.19" width="4.55" height="4.64" fill="#fff3b4"/>
<rect x="169.72" y="567.60" width="3.75" height="3.82" fill="#fff9c6"/>
<rect x="181.05" y="567.86" width="2.20" height="3.30" fill="#fffacd"/>
<rect x="191.88" y="568.68" width="1.65" height="1.65" fill="#fffcd7"/>
<rect x="202.48" y="568.73" width="1.55" height="1.55" fill="#fffcd7"/>
<rect x="212.83" y="568.53" width="1.95" height="1.95" fill="#fffcd5"/>
<rect x="222.79" y="567.93" width="3.15" height="3.15" fill="#ffface"/>
<rect x="234.34" y="568.93" width="1.15" height="1.15" fill="#fffdda"/>
<rect x="243.69" y="567.73" width="3.55" height="3.55" fill="#fffacc"/>
<rect x="254.55" y="568.03" width="2.95" height="2.95" fill="#fffbcf"/>
<rect x="266.00" y="568.93" width="1.15" height="1.15" fill="#fffdda"/>
<rect x="276.16" y="568.53" width="1.95" height="1.95" fill="#fffcd5"/>
<rect x="286.71" y="568.53" width="1.95" height="1.95" fill="#fffcd5"/>
<rect x="297.56" y="568.83" width="1.35" height="1.35" fill="#fffdd9"/>
<rect x="308.22" y="568.93" width="1.15" height="1.15" fill="#fffdda"/>
<rect x="318.67" y="568.83" width="1.35" height="1.35" fill="#fffdd9"/>
<rect x="329.22" y="568.83" width="1.35" height="1.35" fill="#fffdd9"/>
<rect x="339.78" y="568.83" width="1.35" height="1.35" fill="#fffdd9"/>
<rect x="350.13" y="568.63" width="1.75" height="1.75" fill="#fffcd6"/>
<rect x="360.89" y="568.83" width="1.35" height="1.35" fill="#fffdd9"/>
<rect x="371.54" y="568.93" width="1.15" height="1.15" fill="#fffdda"/>
<rect x="381.89" y="568.73" width="1.55" height="1.55" fill="#fffcd7"/>
<rect x="392.45" y="568.73" width="1.55" height="1.55" fill="#fffcd7"/>
<rect x="126.95" y="577.79" width="5.45" height="4.94" fill="#fff0ad"/>
<rect x="139.36" y="579.68" width="1.15" height="1.15" fill="#fffdda"/>
<rect x="148.21" y="577.94" width="4.55" height="4.64" fill="#fff3b4"/>
<rect x="157.16" y="576.31" width="7.75" height="7.90" fill="#fea130"/>
<rect x="170.49" y="578.11" width="2.20" height="4.30" fill="#fffaca"/>
<rect x="180.02" y="578.09" width="4.25" height="4.33" fill="#fff7bc"/>
<rect x="192.02" y="579.58" width="1.35" height="1.35" fill="#fffdd9"/>
<rect x="202.28" y="579.28" width="1.95" height="1.95" fill="#fffcd5"/>
<rect x="212.63" y="579.08" width="2.35" height="2.35" fill="#fffbd3"/>
<rect x="222.99" y="578.88" width="2.75" height="2.75" fill="#fffbd0"/>
<rect x="232.82" y="577.76" width="4.20" height="5.00" fill="#fff3b4"/>
<rect x="244.29" y="579.08" width="2.35" height="2.35" fill="#fffbd3"/>
<rect x="255.45" y="579.68" width="1.15" height="1.15" fill="#fffdda"/>
<rect x="265.90" y="579.58" width="1.35" height="1.35" fill="#fffdd9"/>
<rect x="276.46" y="579.58" width="1.35" height="1.35" fill="#fffdd9"/>
<rect x="287.01" y="579.58" width="1.35" height="1.35" fill="#fffdd9"/>
<rect x="297.56" y="579.58" width="1.35" height="1.35" fill="#fffdd9"/>
<rect x="308.12" y="579.58" width="1.35" height="1.35" fill="#fffdd9"/>
<rect x="318.17" y="579.08" width="2.35" height="2.35" fill="#fffbd3"/>
<rect x="329.32" y="579.68" width="1.15" height="1.15" fill="#fffdda"/>
<rect x="339.78" y="579.58" width="1.35" height="1.35" fill="#fffdd9"/>
<rect x="350.23" y="579.48" width="1.55" height="1.55" fill="#fffcd7"/>
<rect x="360.79" y="579.48" width="1.55" height="1.55" fill="#fffcd7"/>
<rect x="371.44" y="579.58" width="1.35" height="1.35" fill="#fffdd9"/>
<rect x="381.89" y="579.48" width="1.55" height="1.55" fill="#fffcd7"/>
<rect x="392.45" y="579.48" width="1.55" height="1.55" fill="#fffcd7"/>
<rect x="127.50" y="589.10" width="3.75" height="3.82" fill="#fff9c6"/>
<rect x="134.81" y="585.79" width="10.25" height="10.44" fill="#7f2c05"/>
<rect x="148.06" y="588.54" width="4.85" height="4.94" fill="#fff0ad"/>
<rect x="160.21" y="590.18" width="1.65" height="1.65" fill="#fffcd7"/>
<rect x="170.62" y="590.03" width="1.95" height="1.95" fill="#fffcd5"/>
<rect x="181.02" y="589.88" width="2.25" height="2.25" fill="#fffcd3"/>
<rect x="191.57" y="589.88" width="2.25" height="2.25" fill="#fffcd3"/>
<rect x="201.88" y="589.63" width="2.75" height="2.75" fill="#fffbd0"/>
<rect x="213.03" y="590.23" width="1.55" height="1.55" fill="#fffcd7"/>
<rect x="223.69" y="590.33" width="1.35" height="1.35" fill="#fffdd9"/>
<rect x="234.39" y="590.48" width="1.05" height="1.05" fill="#fffdda"/>
<rect x="244.89" y="590.43" width="1.15" height="1.15" fill="#fffdda"/>
<rect x="255.50" y="590.48" width="1.05" height="1.05" fill="#fffdda"/>
<rect x="265.60" y="590.03" width="1.95" height="1.95" fill="#fffcd5"/>
<rect x="276.36" y="590.23" width="1.55" height="1.55" fill="#fffcd7"/>
<rect x="286.38" y="589.11" width="2.60" height="3.80" fill="#fffaca"/>
<rect x="297.56" y="590.33" width="1.35" height="1.35" fill="#fffdd9"/>
<rect x="308.12" y="590.33" width="1.35" height="1.35" fill="#fffdd9"/>
<rect x="318.47" y="590.13" width="1.75" height="1.75" fill="#fffcd6"/>
<rect x="329.12" y="590.23" width="1.55" height="1.55" fill="#fffcd7"/>
<rect x="339.68" y="590.23" width="1.55" height="1.55" fill="#fffcd7"/>
<rect x="350.13" y="590.13" width="1.75" height="1.75" fill="#fffcd6"/>
<rect x="360.69" y="590.13" width="1.75" height="1.75" fill="#fffcd6"/>
<rect x="370.94" y="589.83" width="2.35" height="2.35" fill="#fffbd3"/>
<rect x="382.09" y="590.43" width="1.15" height="1.15" fill="#fffdda"/>
<rect x="392.45" y="590.23" width="1.55" height="1.55" fill="#fffcd7"/>
<rect x="128.40" y="600.79" width="1.95" height="1.95" fill="#fffcd5"/>
<rect x="138.31" y="600.14" width="3.25" height="3.25" fill="#fffacd"/>
<rect x="149.96" y="601.24" width="1.05" height="1.05" fill="#fffdda"/>
<rect x="159.26" y="599.99" width="3.55" height="3.55" fill="#fffacc"/>
<rect x="166.22" y="596.29" width="10.75" height="10.95" fill="#662506"/>
<rect x="181.32" y="600.94" width="1.65" height="1.65" fill="#fffcd7"/>
<rect x="190.72" y="599.75" width="3.95" height="4.02" fill="#fff8c2"/>
<rect x="201.48" y="599.99" width="3.55" height="3.55" fill="#fffacc"/>
<rect x="213.23" y="601.19" width="1.15" height="1.15" fill="#fffdda"/>
<rect x="223.79" y="601.19" width="1.15" height="1.15" fill="#fffdda"/>
<rect x="234.14" y="600.99" width="1.55" height="1.55" fill="#fffcd7"/>
<rect x="244.09" y="600.39" width="2.75" height="2.75" fill="#fffbd0"/>
<rect x="255.45" y="601.19" width="1.15" height="1.15" fill="#fffdda"/>
<rect x="265.60" y="600.79" width="1.95" height="1.95" fill="#fffcd5"/>
<rect x="276.16" y="600.79" width="1.95" height="1.95" fill="#fffcd5"/>
<rect x="286.71" y="600.79" width="1.95" height="1.95" fill="#fffcd5"/>
<rect x="297.36" y="600.89" width="1.75" height="1.75" fill="#fffcd6"/>
<rect x="308.02" y="600.99" width="1.55" height="1.55" fill="#fffcd7"/>
<rect x="318.57" y="600.99" width="1.55" height="1.55" fill="#fffcd7"/>
<rect x="329.12" y="600.99" width="1.55" height="1.55" fill="#fffcd7"/>
<rect x="339.68" y="600.99" width="1.55" height="1.55" fill="#fffcd7"/>
<rect x="350.23" y="600.99" width="1.55" height="1.55" fill="#fffcd7"/>
<rect x="360.99" y="601.19" width="1.15" height="1.15" fill="#fffdda"/>
<rect x="371.34" y="600.99" width="1.55" height="1.55" fill="#fffcd7"/>
<rect x="381.79" y="600.89" width="1.75" height="1.75" fill="#fffcd6"/>
<rect x="392.45" y="600.99" width="1.55" height="1.55" fill="#fffcd7"/>
<rect x="126.95" y="610.04" width="5.45" height="4.94" fill="#fff0ad"/>
<rect x="136.36" y="608.87" width="7.15" height="7.28" fill="#fec34e"/>
<rect x="149.51" y="611.54" width="1.95" height="1.95" fill="#fffcd5"/>
<rect x="158.91" y="610.35" width="4.25" height="4.33" fill="#fff7bc"/>
<rect x="169.32" y="610.20" width="4.55" height="4.64" fill="#fff3b4"/>
<rect x="181.57" y="611.94" width="1.15" height="1.15" fill="#fffdda"/>
<rect x="191.07" y="610.89" width="3.25" height="3.25" fill="#fffacd"/>
<rect x="201.38" y="610.64" width="3.75" height="3.75" fill="#fffaca"/>
<rect x="212.03" y="610.74" width="3.55" height="3.55" fill="#fffacc"/>
<rect x="223.19" y="611.34" width="2.35" height="2.35" fill="#fffbd3"/>
<rect x="233.54" y="611.14" width="2.75" height="2.75" fill="#fffbd0"/>
<rect x="244.79" y="611.84" width="1.35" height="1.35" fill="#fffdd9"/>
<rect x="254.65" y="611.14" width="2.75" height="2.75" fill="#fffbd0"/>
<rect x="265.80" y="611.74" width="1.55" height="1.55" fill="#fffcd7"/>
<rect x="276.16" y="611.54" width="1.95" height="1.95" fill="#fffcd5"/>
<rect x="286.71" y="611.54" width="1.95" height="1.95" fill="#fffcd5"/>
<rect x="297.66" y="611.94" width="1.15" height="1.15" fill="#fffdda"/>
<rect x="308.12" y="611.84" width="1.35" height="1.35" fill="#fffdd9"/>
<rect x="318.77" y="611.94" width="1.15" height="1.15" fill="#fffdda"/>
<rect x="329.22" y="611.84" width="1.35" height="1.35" fill="#fffdd9"/>
<rect x="339.68" y="611.74" width="1.55" height="1.55" fill="#fffcd7"/>
<rect x="350.33" y="611.84" width="1.35" height="1.35" fill="#fffdd9"/>
<rect x="360.99" y="611.94" width="1.15" height="1.15" fill="#fffdda"/>
<rect x="371.44" y="611.84" width="1.35" height="1.35" fill="#fffdd9"/>
<rect x="381.89" y="611.74" width="1.55" height="1.55" fill="#fffcd7"/>
<rect x="392.65" y="611.94" width="1.15" height="1.15" fill="#fffdda"/>
<rect x="128.55" y="622.44" width="1.65" height="1.65" fill="#fffcd7"/>
<rect x="136.71" y="619.98" width="6.45" height="6.57" fill="#fecc61"/>
<rect x="147.26" y="619.98" width="6.45" height="6.57" fill="#fec857"/>
<rect x="157.94" y="620.46" width="6.20" height="5.60" fill="#fedb81"/>
<rect x="170.77" y="622.44" width="1.65" height="1.65" fill="#fffcd7"/>
<rect x="180.65" y="622.26" width="3.00" height="2.00" fill="#fffbce"/>
<rect x="191.07" y="621.64" width="3.25" height="3.25" fill="#fffacd"/>
<rect x="201.68" y="621.69" width="3.15" height="3.15" fill="#ffface"/>
<rect x="213.03" y="622.49" width="1.55" height="1.55" fill="#fffcd7"/>
<rect x="222.79" y="621.69" width="3.15" height="3.15" fill="#ffface"/>
<rect x="234.14" y="622.49" width="1.55" height="1.55" fill="#fffcd7"/>
<rect x="244.09" y="621.89" width="2.75" height="2.75" fill="#fffbd0"/>
<rect x="254.65" y="621.89" width="2.75" height="2.75" fill="#fffbd0"/>
<rect x="265.60" y="622.29" width="1.95" height="1.95" fill="#fffcd5"/>
<rect x="276.36" y="622.49" width="1.55" height="1.55" fill="#fffcd7"/>
<rect x="286.91" y="622.49" width="1.55" height="1.55" fill="#fffcd7"/>
<rect x="297.06" y="622.09" width="2.35" height="2.35" fill="#fffbd3"/>
<rect x="308.22" y="622.69" width="1.15" height="1.15" fill="#fffdda"/>
<rect x="318.57" y="622.49" width="1.55" height="1.55" fill="#fffcd7"/>
<rect x="329.22" y="622.59" width="1.35" height="1.35" fill="#fffdd9"/>
<rect x="339.68" y="622.49" width="1.55" height="1.55" fill="#fffcd7"/>
<rect x="350.43" y="622.69" width="1.15" height="1.15" fill="#fffdda"/>
<rect x="360.59" y="622.29" width="1.95" height="1.95" fill="#fffcd5"/>
<rect x="371.34" y="622.49" width="1.55" height="1.55" fill="#fffcd7"/>
<rect x="382.09" y="622.69" width="1.15" height="1.15" fill="#fffdda"/>
<rect x="392.65" y="622.69" width="1.15" height="1.15" fill="#fffdda"/>
<rect x="124.70" y="629.26" width="9.95" height="9.52" fill="#e0630d"/>
<rect x="137.96" y="632.00" width="3.95" height="4.02" fill="#fff8c2"/>
<rect x="149.36" y="632.89" width="2.25" height="2.25" fill="#fffcd3"/>
<rect x="159.26" y="632.24" width="3.55" height="3.55" fill="#fffacc"/>
<rect x="169.32" y="631.70" width="4.55" height="4.64" fill="#fff3b4"/>
<rect x="179.57" y="631.39" width="5.15" height="5.25" fill="#feeca4"/>
<rect x="191.88" y="633.19" width="1.65" height="1.65" fill="#fffcd7"/>
<rect x="202.48" y="633.24" width="1.55" height="1.55" fill="#fffcd7"/>
<rect x="212.83" y="633.04" width="1.95" height="1.95" fill="#fffcd5"/>
<rect x="222.99" y="632.64" width="2.75" height="2.75" fill="#fffbd0"/>
<rect x="233.94" y="633.04" width="1.95" height="1.95" fill="#fffcd5"/>
<rect x="244.69" y="633.24" width="1.55" height="1.55" fill="#fffcd7"/>
<rect x="254.85" y="632.84" width="2.35" height="2.35" fill="#fffbd3"/>
<rect x="265.60" y="633.04" width="1.95" height="1.95" fill="#fffcd5"/>
<rect x="276.36" y="633.24" width="1.55" height="1.55" fill="#fffcd7"/>
<rect x="286.71" y="633.04" width="1.95" height="1.95" fill="#fffcd5"/>
<rect x="297.06" y="632.84" width="2.35" height="2.35" fill="#fffbd3"/>
<rect x="308.02" y="633.24" width="1.55" height="1.55" fill="#fffcd7"/>
<rect x="318.57" y="633.24" width="1.55" height="1.55" fill="#fffcd7"/>
<rect x="328.92" y="633.04" width="1.95" height="1.95" fill="#fffcd5"/>
<rect x="339.58" y="633.14" width="1.75" height="1.75" fill="#fffcd6"/>
<rect x="350.33" y="633.34" width="1.35" height="1.35" fill="#fffdd9"/>
<rect x="360.89" y="633.34" width="1.35" height="1.35" fill="#fffdd9"/>
<rect x="371.34" y="633.24" width="1.55" height="1.55" fill="#fffcd7"/>
<rect x="381.99" y="633.34" width="1.35" height="1.35" fill="#fffdd9"/>
<rect x="392.45" y="633.24" width="1.55" height="1.55" fill="#fffcd7"/>
<rect x="125.80" y="641.13" width="7.75" height="7.28" fill="#fec95a"/>
<rect x="138.93" y="642.97" width="2.00" height="3.60" fill="#fffacd"/>
<rect x="148.36" y="642.60" width="4.25" height="4.33" fill="#fff7bc"/>
<rect x="159.26" y="642.99" width="3.55" height="3.55" fill="#fffacc"/>
<rect x="169.44" y="641.97" width="4.30" height="5.60" fill="#fff0ad"/>
<rect x="180.37" y="642.96" width="3.55" height="3.62" fill="#fffaca"/>
<rect x="191.57" y="643.64" width="2.25" height="2.25" fill="#fffcd3"/>
<rect x="201.15" y="641.87" width="4.20" height="5.80" fill="#ffefaa"/>
<rect x="213.13" y="644.09" width="1.35" height="1.35" fill="#fffdd9"/>
<rect x="223.69" y="644.09" width="1.35" height="1.35" fill="#fffdd9"/>
<rect x="233.14" y="642.99" width="3.55" height="3.55" fill="#fffacc"/>
<rect x="244.69" y="643.99" width="1.55" height="1.55" fill="#fffcd7"/>
<rect x="255.35" y="644.09" width="1.35" height="1.35" fill="#fffdd9"/>
<rect x="265.60" y="643.79" width="1.95" height="1.95" fill="#fffcd5"/>
<rect x="275.83" y="642.67" width="2.60" height="4.20" fill="#fffacd"/>
<rect x="286.91" y="643.99" width="1.55" height="1.55" fill="#fffcd7"/>
<rect x="297.66" y="644.19" width="1.15" height="1.15" fill="#fffdda"/>
<rect x="308.22" y="644.19" width="1.15" height="1.15" fill="#fffdda"/>
<rect x="318.57" y="643.99" width="1.55" height="1.55" fill="#fffcd7"/>
<rect x="329.12" y="643.99" width="1.55" height="1.55" fill="#fffcd7"/>
<rect x="339.68" y="643.99" width="1.55" height="1.55" fill="#fffcd7"/>
<rect x="350.23" y="643.99" width="1.55" height="1.55" fill="#fffcd7"/>
<rect x="360.89" y="644.09" width="1.35" height="1.35" fill="#fffdd9"/>
<rect x="371.54" y="644.19" width="1.15" height="1.15" fill="#fffdda"/>
<rect x="381.99" y="644.09" width="1.35" height="1.35" fill="#fffdd9"/>
<rect x="392.65" y="644.19" width="1.15" height="1.15" fill="#fffdda"/>
<rect x="125.05" y="651.12" width="9.25" height="8.81" fill="#fe9d2d"/>
<rect x="138.16" y="653.71" width="3.55" height="3.62" fill="#fffaca"/>
<rect x="149.66" y="654.70" width="1.65" height="1.65" fill="#fffcd7"/>
<rect x="159.91" y="654.40" width="2.25" height="2.25" fill="#fffcd3"/>
<rect x="171.12" y="655.05" width="0.95" height="0.95" fill="#fffddb"/>
<rect x="180.35" y="653.22" width="3.60" height="4.60" fill="#fff8c0"/>
<rect x="191.42" y="654.25" width="2.55" height="2.55" fill="#fffbd1"/>
<rect x="201.58" y="653.81" width="3.35" height="3.41" fill="#fffacd"/>
<rect x="211.51" y="652.62" width="4.60" height="5.80" fill="#feeca4"/>
<rect x="223.69" y="654.85" width="1.35" height="1.35" fill="#fffdd9"/>
<rect x="233.74" y="654.35" width="2.35" height="2.35" fill="#fffbd3"/>
<rect x="244.69" y="654.75" width="1.55" height="1.55" fill="#fffcd7"/>
<rect x="254.25" y="653.75" width="3.55" height="3.55" fill="#fffacc"/>
<rect x="265.20" y="654.15" width="2.75" height="2.75" fill="#fffbd0"/>
<rect x="276.16" y="654.55" width="1.95" height="1.95" fill="#fffcd5"/>
<rect x="286.71" y="654.55" width="1.95" height="1.95" fill="#fffcd5"/>
<rect x="297.36" y="654.65" width="1.75" height="1.75" fill="#fffcd6"/>
<rect x="307.62" y="654.35" width="2.35" height="2.35" fill="#fffbd3"/>
<rect x="318.47" y="654.65" width="1.75" height="1.75" fill="#fffcd6"/>
<rect x="329.22" y="654.85" width="1.35" height="1.35" fill="#fffdd9"/>
<rect x="339.68" y="654.75" width="1.55" height="1.55" fill="#fffcd7"/>
<rect x="350.13" y="654.65" width="1.75" height="1.75" fill="#fffcd6"/>
<rect x="360.89" y="654.85" width="1.35" height="1.35" fill="#fffdd9"/>
<rect x="371.34" y="654.75" width="1.55" height="1.55" fill="#fffcd7"/>
<rect x="382.09" y="654.95" width="1.15" height="1.15" fill="#fffdda"/>
<rect x="392.55" y="654.85" width="1.35" height="1.35" fill="#fffdd9"/>
<rect x="126.60" y="663.45" width="6.15" height="5.65" fill="#fee698"/>
<rect x="138.16" y="664.46" width="3.55" height="3.62" fill="#fffaca"/>
<rect x="145.81" y="661.51" width="9.35" height="9.52" fill="#ea6d13"/>
<rect x="160.46" y="665.70" width="1.15" height="1.15" fill="#fffdda"/>
<rect x="171.02" y="665.70" width="1.15" height="1.15" fill="#fffdda"/>
<rect x="181.32" y="665.45" width="1.65" height="1.65" fill="#fffcd7"/>
<rect x="191.42" y="665.00" width="2.55" height="2.55" fill="#fffbd1"/>
<rect x="202.58" y="665.60" width="1.35" height="1.35" fill="#fffdd9"/>
<rect x="212.03" y="664.50" width="3.55" height="3.55" fill="#fffacc"/>
<rect x="222.59" y="664.50" width="3.55" height="3.55" fill="#fffacc"/>
<rect x="233.14" y="664.50" width="3.55" height="3.55" fill="#fffacc"/>
<rect x="243.89" y="664.70" width="3.15" height="3.15" fill="#ffface"/>
<rect x="255.35" y="665.60" width="1.35" height="1.35" fill="#fffdd9"/>
<rect x="266.00" y="665.70" width="1.15" height="1.15" fill="#fffdda"/>
<rect x="276.46" y="665.60" width="1.35" height="1.35" fill="#fffdd9"/>
<rect x="287.01" y="665.60" width="1.35" height="1.35" fill="#fffdd9"/>
<rect x="297.46" y="665.50" width="1.55" height="1.55" fill="#fffcd7"/>
<rect x="307.42" y="664.90" width="2.75" height="2.75" fill="#fffbd0"/>
<rect x="318.37" y="665.30" width="1.95" height="1.95" fill="#fffcd5"/>
<rect x="329.02" y="665.40" width="1.75" height="1.75" fill="#fffcd6"/>
<rect x="339.68" y="665.50" width="1.55" height="1.55" fill="#fffcd7"/>
<rect x="350.43" y="665.70" width="1.15" height="1.15" fill="#fffdda"/>
<rect x="360.79" y="665.50" width="1.55" height="1.55" fill="#fffcd7"/>
<rect x="371.44" y="665.60" width="1.35" height="1.35" fill="#fffdd9"/>
<rect x="381.79" y="665.40" width="1.75" height="1.75" fill="#fffcd6"/>
<rect x="392.65" y="665.70" width="1.15" height="1.15" fill="#fffdda"/>
<rect x="126.78" y="673.77" width="5.80" height="6.50" fill="#fee392"/>
<rect x="139.26" y="676.35" width="1.35" height="1.35" fill="#fffdd9"/>
<rect x="148.06" y="674.55" width="4.85" height="4.94" fill="#fff0ad"/>
<rect x="159.26" y="675.25" width="3.55" height="3.55" fill="#fffacc"/>
<rect x="171.07" y="676.50" width="1.05" height="1.05" fill="#fffdda"/>
<rect x="178.57" y="673.38" width="7.15" height="7.28" fill="#feaa38"/>
<rect x="190.72" y="675.01" width="3.95" height="4.02" fill="#fff8c2"/>
<rect x="201.48" y="675.25" width="3.55" height="3.55" fill="#fffacc"/>
<rect x="213.03" y="676.25" width="1.55" height="1.55" fill="#fffcd7"/>
<rect x="223.69" y="676.35" width="1.35" height="1.35" fill="#fffdd9"/>
<rect x="233.94" y="676.05" width="1.95" height="1.95" fill="#fffcd5"/>
<rect x="244.19" y="675.75" width="2.55" height="2.55" fill="#fffbd1"/>
<rect x="254.25" y="675.25" width="3.55" height="3.55" fill="#fffacc"/>
<rect x="265.80" y="676.25" width="1.55" height="1.55" fill="#fffcd7"/>
<rect x="276.46" y="676.35" width="1.35" height="1.35" fill="#fffdd9"/>
<rect x="287.01" y="676.35" width="1.35" height="1.35" fill="#fffdd9"/>
<rect x="297.36" y="676.15" width="1.75" height="1.75" fill="#fffcd6"/>
<rect x="308.12" y="676.35" width="1.35" height="1.35" fill="#fffdd9"/>
<rect x="318.57" y="676.25" width="1.55" height="1.55" fill="#fffcd7"/>
<rect x="329.22" y="676.35" width="1.35" height="1.35" fill="#fffdd9"/>
<rect x="339.78" y="676.35" width="1.35" height="1.35" fill="#fffdd9"/>
<rect x="350.33" y="676.35" width="1.35" height="1.35" fill="#fffdd9"/>
<rect x="360.89" y="676.35" width="1.35" height="1.35" fill="#fffdd9"/>
<rect x="371.34" y="676.25" width="1.55" height="1.55" fill="#fffcd7"/>
<rect x="381.89" y="676.25" width="1.55" height="1.55" fill="#fffcd7"/>
<rect x="392.45" y="676.25" width="1.55" height="1.55" fill="#fffcd7"/>
<path d="M123.80 392.1V682.4M134.65 392.1V682.4M145.21 392.1V682.4M155.76 392.1V682.4M166.32 392.1V682.4M176.87 392.1V682.4M187.42 392.1V682.4M197.98 392.1V682.4M208.53 392.1V682.4M219.08 392.1V682.4M229.64 392.1V682.4M240.19 392.1V682.4M250.75 392.1V682.4M261.30 392.1V682.4M271.85 392.1V682.4M282.41 392.1V682.4M292.96 392.1V682.4M303.52 392.1V682.4M314.07 392.1V682.4M324.62 392.1V682.4M335.18 392.1V682.4M345.73 392.1V682.4M356.28 392.1V682.4M366.84 392.1V682.4M377.39 392.1V682.4M387.95 392.1V682.4M398.50 392.1V682.4M124.1 392.10H398.5M124.1 402.85H398.5M124.1 413.60H398.5M124.1 424.36H398.5M124.1 435.11H398.5M124.1 445.86H398.5M124.1 456.61H398.5M124.1 467.36H398.5M124.1 478.11H398.5M124.1 488.87H398.5M124.1 499.62H398.5M124.1 510.37H398.5M124.1 521.12H398.5M124.1 531.87H398.5M124.1 542.63H398.5M124.1 553.38H398.5M124.1 564.13H398.5M124.1 574.88H398.5M124.1 585.63H398.5M124.1 596.39H398.5M124.1 607.14H398.5M124.1 617.89H398.5M124.1 628.64H398.5M124.1 639.39H398.5M124.1 650.14H398.5M124.1 660.90H398.5M124.1 671.65H398.5M124.1 682.40H398.5" stroke="#bababa" stroke-width="0.8" fill="none"/>
<text transform="translate(117.8,401.18) scale(0.86,1)" font-size="9.8" text-anchor="end" fill="#ff0000" stroke="#ff0000" stroke-width="0.15">Ag</text>
<text transform="translate(117.8,411.93) scale(0.86,1)" font-size="9.8" text-anchor="end" fill="#ff0000" stroke="#ff0000" stroke-width="0.15">As</text>
<text transform="translate(117.8,422.68) scale(0.86,1)" font-size="9.8" text-anchor="end" fill="#ff0000" stroke="#ff0000" stroke-width="0.15">Au</text>
<text transform="translate(117.8,433.43) scale(0.86,1)" font-size="9.8" text-anchor="end" fill="#ff0000" stroke="#ff0000" stroke-width="0.15">BaO</text>
<text transform="translate(117.8,444.18) scale(0.86,1)" font-size="9.8" text-anchor="end" fill="#ff0000" stroke="#ff0000" stroke-width="0.15">Bi</text>
<text transform="translate(117.8,454.94) scale(0.86,1)" font-size="9.8" text-anchor="end" fill="#ff0000" stroke="#ff0000" stroke-width="0.15">Co</text>
<text transform="translate(117.8,465.69) scale(0.86,1)" font-size="9.8" text-anchor="end" fill="#ff0000" stroke="#ff0000" stroke-width="0.15">Cr2O3</text>
<text transform="translate(117.8,476.44) scale(0.86,1)" font-size="9.8" text-anchor="end" fill="#ff0000" stroke="#ff0000" stroke-width="0.15">Cs</text>
<text transform="translate(117.8,487.19) scale(0.86,1)" font-size="9.8" text-anchor="end" fill="#ff0000" stroke="#ff0000" stroke-width="0.15">Cu</text>
<text transform="translate(117.8,497.94) scale(0.86,1)" font-size="9.8" text-anchor="end" fill="#ff0000" stroke="#ff0000" stroke-width="0.15">La</text>
<text transform="translate(117.8,508.69) scale(0.86,1)" font-size="9.8" text-anchor="end" fill="#ff0000" stroke="#ff0000" stroke-width="0.15">Mo</text>
<text transform="translate(117.8,519.45) scale(0.86,1)" font-size="9.8" text-anchor="end" fill="#ff0000" stroke="#ff0000" stroke-width="0.15">Nb</text>
<text transform="translate(117.8,530.20) scale(0.86,1)" font-size="9.8" text-anchor="end" fill="#ff0000" stroke="#ff0000" stroke-width="0.15">Ni</text>
<text transform="translate(117.8,540.95) scale(0.86,1)" font-size="9.8" text-anchor="end" fill="#ff0000" stroke="#ff0000" stroke-width="0.15">Pb</text>
<text transform="translate(117.8,551.70) scale(0.86,1)" font-size="9.8" text-anchor="end" fill="#ff0000" stroke="#ff0000" stroke-width="0.15">Rb</text>
<text transform="translate(117.8,562.45) scale(0.86,1)" font-size="9.8" text-anchor="end" fill="#ff0000" stroke="#ff0000" stroke-width="0.15">Sb</text>
<text transform="translate(117.8,573.21) scale(0.86,1)" font-size="9.8" text-anchor="end" fill="#ff0000" stroke="#ff0000" stroke-width="0.15">Sc</text>
<text transform="translate(117.8,583.96) scale(0.86,1)" font-size="9.8" text-anchor="end" fill="#ff0000" stroke="#ff0000" stroke-width="0.15">Sn</text>
<text transform="translate(117.8,594.71) scale(0.86,1)" font-size="9.8" text-anchor="end" fill="#ff0000" stroke="#ff0000" stroke-width="0.15">SrO</text>
<text transform="translate(117.8,605.46) scale(0.86,1)" font-size="9.8" text-anchor="end" fill="#ff0000" stroke="#ff0000" stroke-width="0.15">Ta</text>
<text transform="translate(117.8,616.21) scale(0.86,1)" font-size="9.8" text-anchor="end" fill="#ff0000" stroke="#ff0000" stroke-width="0.15">Th</text>
<text transform="translate(117.8,626.96) scale(0.86,1)" font-size="9.8" text-anchor="end" fill="#ff0000" stroke="#ff0000" stroke-width="0.15">U3O8</text>
<text transform="translate(117.8,637.72) scale(0.86,1)" font-size="9.8" text-anchor="end" fill="#ff0000" stroke="#ff0000" stroke-width="0.15">V</text>
<text transform="translate(117.8,648.47) scale(0.86,1)" font-size="9.8" text-anchor="end" fill="#ff0000" stroke="#ff0000" stroke-width="0.15">W</text>
<text transform="translate(117.8,659.22) scale(0.86,1)" font-size="9.8" text-anchor="end" fill="#ff0000" stroke="#ff0000" stroke-width="0.15">Y</text>
<text transform="translate(117.8,669.97) scale(0.86,1)" font-size="9.8" text-anchor="end" fill="#ff0000" stroke="#ff0000" stroke-width="0.15">Zn</text>
<text transform="translate(117.8,680.72) scale(0.86,1)" font-size="9.8" text-anchor="end" fill="#ff0000" stroke="#ff0000" stroke-width="0.15">Zr</text>
<text transform="translate(133.38,389) rotate(-90) scale(0.915,1)" font-size="9.6" fill="#ff0000" stroke="#ff0000" stroke-width="0.15">Dim.1</text>
<text transform="translate(143.93,389) rotate(-90) scale(0.915,1)" font-size="9.6" fill="#ff0000" stroke="#ff0000" stroke-width="0.15">Dim.2</text>
<text transform="translate(154.48,389) rotate(-90) scale(0.915,1)" font-size="9.6" fill="#ff0000" stroke="#ff0000" stroke-width="0.15">Dim.3</text>
<text transform="translate(165.04,389) rotate(-90) scale(0.915,1)" font-size="9.6" fill="#ff0000" stroke="#ff0000" stroke-width="0.15">Dim.4</text>
<text transform="translate(175.59,389) rotate(-90) scale(0.915,1)" font-size="9.6" fill="#ff0000" stroke="#ff0000" stroke-width="0.15">Dim.5</text>
<text transform="translate(186.15,389) rotate(-90) scale(0.915,1)" font-size="9.6" fill="#ff0000" stroke="#ff0000" stroke-width="0.15">Dim.6</text>
<text transform="translate(196.70,389) rotate(-90) scale(0.915,1)" font-size="9.6" fill="#ff0000" stroke="#ff0000" stroke-width="0.15">Dim.7</text>
<text transform="translate(207.25,389) rotate(-90) scale(0.915,1)" font-size="9.6" fill="#ff0000" stroke="#ff0000" stroke-width="0.15">Dim.8</text>
<text transform="translate(217.81,389) rotate(-90) scale(0.915,1)" font-size="9.6" fill="#ff0000" stroke="#ff0000" stroke-width="0.15">Dim.9</text>
<text transform="translate(228.36,389) rotate(-90) scale(0.915,1)" font-size="9.6" fill="#ff0000" stroke="#ff0000" stroke-width="0.15">Dim.10</text>
<text transform="translate(238.92,389) rotate(-90) scale(0.915,1)" font-size="9.6" fill="#ff0000" stroke="#ff0000" stroke-width="0.15">Dim.11</text>
<text transform="translate(249.47,389) rotate(-90) scale(0.915,1)" font-size="9.6" fill="#ff0000" stroke="#ff0000" stroke-width="0.15">Dim.12</text>
<text transform="translate(260.02,389) rotate(-90) scale(0.915,1)" font-size="9.6" fill="#ff0000" stroke="#ff0000" stroke-width="0.15">Dim.13</text>
<text transform="translate(270.58,389) rotate(-90) scale(0.915,1)" font-size="9.6" fill="#ff0000" stroke="#ff0000" stroke-width="0.15">Dim.14</text>
<text transform="translate(281.13,389) rotate(-90) scale(0.915,1)" font-size="9.6" fill="#ff0000" stroke="#ff0000" stroke-width="0.15">Dim.15</text>
<text transform="translate(291.68,389) rotate(-90) scale(0.915,1)" font-size="9.6" fill="#ff0000" stroke="#ff0000" stroke-width="0.15">Dim.16</text>
<text transform="translate(302.24,389) rotate(-90) scale(0.915,1)" font-size="9.6" fill="#ff0000" stroke="#ff0000" stroke-width="0.15">Dim.17</text>
<text transform="translate(312.79,389) rotate(-90) scale(0.915,1)" font-size="9.6" fill="#ff0000" stroke="#ff0000" stroke-width="0.15">Dim.18</text>
<text transform="translate(323.35,389) rotate(-90) scale(0.915,1)" font-size="9.6" fill="#ff0000" stroke="#ff0000" stroke-width="0.15">Dim.19</text>
<text transform="translate(333.90,389) rotate(-90) scale(0.915,1)" font-size="9.6" fill="#ff0000" stroke="#ff0000" stroke-width="0.15">Dim.20</text>
<text transform="translate(344.45,389) rotate(-90) scale(0.915,1)" font-size="9.6" fill="#ff0000" stroke="#ff0000" stroke-width="0.15">Dim.21</text>
<text transform="translate(355.01,389) rotate(-90) scale(0.915,1)" font-size="9.6" fill="#ff0000" stroke="#ff0000" stroke-width="0.15">Dim.22</text>
<text transform="translate(365.56,389) rotate(-90) scale(0.915,1)" font-size="9.6" fill="#ff0000" stroke="#ff0000" stroke-width="0.15">Dim.23</text>
<text transform="translate(376.12,389) rotate(-90) scale(0.915,1)" font-size="9.6" fill="#ff0000" stroke="#ff0000" stroke-width="0.15">Dim.24</text>
<text transform="translate(386.67,389) rotate(-90) scale(0.915,1)" font-size="9.6" fill="#ff0000" stroke="#ff0000" stroke-width="0.15">Dim.25</text>
<text transform="translate(397.22,389) rotate(-90) scale(0.915,1)" font-size="9.6" fill="#ff0000" stroke="#ff0000" stroke-width="0.15">Dim.26</text>
<defs><linearGradient id="cb" x1="0" y1="1" x2="0" y2="0">
<stop offset="0.0000" stop-color="#FFFFE5"/>
<stop offset="0.1250" stop-color="#FFF7BC"/>
<stop offset="0.2500" stop-color="#FEE391"/>
<stop offset="0.3750" stop-color="#FEC44F"/>
<stop offset="0.5000" stop-color="#FE9929"/>
<stop offset="0.6250" stop-color="#EC7014"/>
<stop offset="0.7500" stop-color="#CC4C02"/>
<stop offset="0.8750" stop-color="#993404"/>
<stop offset="1.0000" stop-color="#662506"/>
</linearGradient></defs>
<rect x="403.5" y="392.1" width="10.100000000000023" height="290.29999999999995" fill="url(#cb)" stroke="#2a2a2a" stroke-width="0.8"/>
<line x1="413.6" y1="682.40" x2="416.20000000000005" y2="682.40" stroke="#1a1a1a" stroke-width="1"/>
<text transform="translate(426.6,687.60) scale(0.93,1)" font-size="10.7" text-anchor="middle" fill="#1c1c1c">0</text>
<line x1="413.6" y1="653.37" x2="416.20000000000005" y2="653.37" stroke="#1a1a1a" stroke-width="1"/>
<text transform="translate(426.6,658.57) scale(0.93,1)" font-size="10.7" text-anchor="middle" fill="#1c1c1c">0.08</text>
<line x1="413.6" y1="624.34" x2="416.20000000000005" y2="624.34" stroke="#1a1a1a" stroke-width="1"/>
<text transform="translate(426.6,629.54) scale(0.93,1)" font-size="10.7" text-anchor="middle" fill="#1c1c1c">0.16</text>
<line x1="413.6" y1="595.31" x2="416.20000000000005" y2="595.31" stroke="#1a1a1a" stroke-width="1"/>
<text transform="translate(426.6,600.51) scale(0.93,1)" font-size="10.7" text-anchor="middle" fill="#1c1c1c">0.25</text>
<line x1="413.6" y1="566.28" x2="416.20000000000005" y2="566.28" stroke="#1a1a1a" stroke-width="1"/>
<text transform="translate(426.6,571.48) scale(0.93,1)" font-size="10.7" text-anchor="middle" fill="#1c1c1c">0.33</text>
<line x1="413.6" y1="537.25" x2="416.20000000000005" y2="537.25" stroke="#1a1a1a" stroke-width="1"/>
<text transform="translate(426.6,542.45) scale(0.93,1)" font-size="10.7" text-anchor="middle" fill="#1c1c1c">0.41</text>
<line x1="413.6" y1="508.22" x2="416.20000000000005" y2="508.22" stroke="#1a1a1a" stroke-width="1"/>
<text transform="translate(426.6,513.42) scale(0.93,1)" font-size="10.7" text-anchor="middle" fill="#1c1c1c">0.49</text>
<line x1="413.6" y1="479.19" x2="416.20000000000005" y2="479.19" stroke="#1a1a1a" stroke-width="1"/>
<text transform="translate(426.6,484.39) scale(0.93,1)" font-size="10.7" text-anchor="middle" fill="#1c1c1c">0.57</text>
<line x1="413.6" y1="450.16" x2="416.20000000000005" y2="450.16" stroke="#1a1a1a" stroke-width="1"/>
<text transform="translate(426.6,455.36) scale(0.93,1)" font-size="10.7" text-anchor="middle" fill="#1c1c1c">0.66</text>
<line x1="413.6" y1="421.13" x2="416.20000000000005" y2="421.13" stroke="#1a1a1a" stroke-width="1"/>
<text transform="translate(426.6,426.33) scale(0.93,1)" font-size="10.7" text-anchor="middle" fill="#1c1c1c">0.74</text>
<line x1="413.6" y1="392.10" x2="416.20000000000005" y2="392.10" stroke="#1a1a1a" stroke-width="1"/>
<text transform="translate(426.6,397.30) scale(0.93,1)" font-size="10.7" text-anchor="middle" fill="#1c1c1c">0.82</text>
<text x="262.8" y="709.7" font-size="17.6" text-anchor="middle" fill="#111">(b)</text>
</svg>
</body></html>
